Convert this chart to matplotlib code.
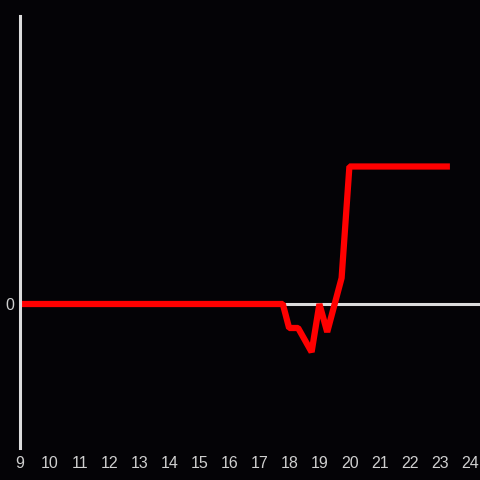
import matplotlib
matplotlib.use("Agg")
import matplotlib.pyplot as plt

# hours of day and value (arbitrary units)
hours = [9.0, 17.76, 17.97, 18.27, 18.72, 18.98, 19.24, 19.72, 19.98, 23.33]
values = [0, 0, -24, -24, -48, 0, -28, 26, 137.5, 137.5]

xticks = list(range(9, 25))
bg = "#040306"
axis_col = "#dcdcdc"
label_col = "#cfcfcf"

plt.rcParams["font.family"] = ["Liberation Sans", "DejaVu Sans"]

fig = plt.figure(figsize=(4.8, 4.8), dpi=100, facecolor=bg)
ax = fig.add_axes([20 / 480, 32 / 480, 460 / 480, 432 / 480], facecolor=bg)

ax.axhline(0, color=axis_col, lw=2.2, zorder=1)
ax.plot(hours, values, color="#ff0000", lw=4.5,
        solid_joinstyle="bevel", solid_capstyle="butt", zorder=2)

ax.set_xlim(9, 24.333)
ax.set_ylim(-144, 288)

for side in ["top", "right", "bottom"]:
    ax.spines[side].set_visible(False)
ax.spines["left"].set_color(axis_col)
ax.spines["left"].set_linewidth(2.2)

ax.set_xticks(xticks)
ax.set_xticklabels([str(h) for h in xticks])
ax.set_yticks([0])
ax.set_yticklabels(["0"])
ax.tick_params(axis="both", length=0, colors=label_col, labelsize=11.5)
ax.tick_params(axis="x", pad=6)
ax.tick_params(axis="y", pad=4)

fig.savefig("out.png", dpi=100, facecolor=bg)
